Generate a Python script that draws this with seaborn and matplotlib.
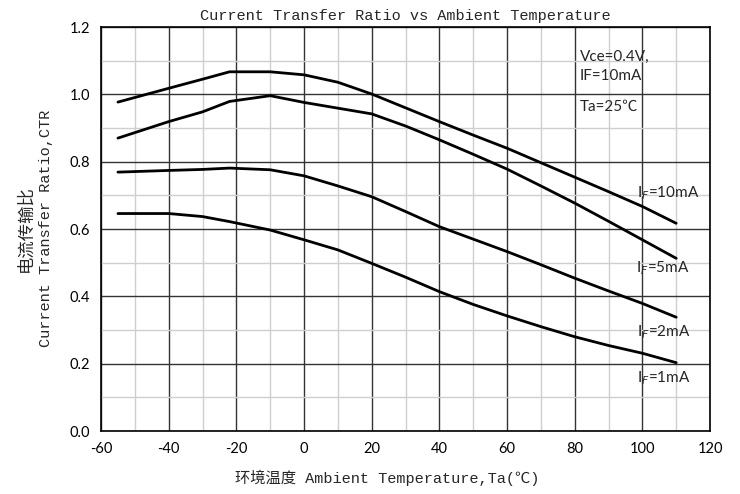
import numpy as np
import pandas as pd
import seaborn as sns
import matplotlib.pyplot as plt
from matplotlib.ticker import MultipleLocator, FuncFormatter

# curves
temp = [-55, -40, -30, -22, -10, 0, 10, 20, 30, 40, 50, 60, 70, 80, 90, 100, 110]
ctr_10ma = [0.977, 1.018, 1.045, 1.067, 1.067, 1.058, 1.036, 1.001, 0.960, 0.919, 0.879, 0.840, 0.797, 0.754, 0.711, 0.667, 0.617]
ctr_5ma = [0.870, 0.919, 0.948, 0.979, 0.996, 0.976, 0.959, 0.942, 0.906, 0.865, 0.822, 0.778, 0.728, 0.677, 0.623, 0.568, 0.513]
ctr_2ma = [0.769, 0.774, 0.777, 0.781, 0.776, 0.758, 0.728, 0.696, 0.652, 0.607, 0.570, 0.533, 0.494, 0.454, 0.416, 0.379, 0.338]
ctr_1ma = [0.646, 0.646, 0.637, 0.622, 0.597, 0.568, 0.538, 0.498, 0.457, 0.414, 0.376, 0.342, 0.310, 0.280, 0.254, 0.231, 0.203]

series = {"10mA": ctr_10ma, "5mA": ctr_5ma, "2mA": ctr_2ma, "1mA": ctr_1ma}
curve_labels = ["I$_F$=10mA", "I$_F$=5mA", "I$_F$=2mA", "I$_F$=1mA"]
label_pos = [(98.5, 0.707), (98.0, 0.484), (98.5, 0.294), (98.5, 0.157)]

rows = []
for name, vals in series.items():
    for t, v in zip(temp, vals):
        rows.append({"Ta": t, "CTR": v, "IF": name})
df = pd.DataFrame(rows)

sns.set_style("white")
mono = ["Liberation Mono", "Noto Sans CJK SC"]
sans = ["Lato", "DejaVu Sans"]

fig = plt.figure(figsize=(7.4, 4.94), dpi=100)
ax = fig.add_axes([0.1365, 0.1275, 0.823, 0.8178])

sns.lineplot(data=df, x="Ta", y="CTR", hue="IF", palette=["black"] * 4,
             linewidth=2, legend=False, ax=ax)

ax.set_xlim(-60, 120)
ax.set_ylim(0, 1.2)
ax.xaxis.set_major_locator(MultipleLocator(20))
ax.xaxis.set_minor_locator(MultipleLocator(10))
ax.yaxis.set_major_locator(MultipleLocator(0.2))
ax.yaxis.set_minor_locator(MultipleLocator(0.1))
ax.xaxis.set_major_formatter(FuncFormatter(lambda v, p: f"{v:.0f}"))
ax.yaxis.set_major_formatter(FuncFormatter(lambda v, p: f"{abs(v):.1f}"))
ax.grid(which="minor", color="#cfcfcf", linewidth=1)
ax.grid(which="major", color="#333333", linewidth=1)
ax.set_axisbelow(True)
for s in ax.spines.values():
    s.set_color("black")
    s.set_linewidth(1.2)

ax.tick_params(axis="x", which="major", direction="inout", length=8, width=1.5,
               colors="black", labelsize=10.5, pad=4)
ax.tick_params(axis="y", which="major", direction="out", length=5, width=1.5,
               colors="black", labelsize=10.5, pad=3)
ax.tick_params(which="minor", length=0)
for lab in ax.get_xticklabels() + ax.get_yticklabels():
    lab.set_family(sans)

ax.set_xlabel("")
ax.set_ylabel("")
ax.set_title("Current Transfer Ratio vs Ambient Temperature", family=mono,
             fontsize=11, pad=5)
fig.text(0.523, 0.032, "环境温度 Ambient Temperature,Ta(℃)", family=mono,
         fontsize=11, ha="center", va="center")
fig.text(0.034, 0.538, "电流传输比", family=mono, fontsize=12.5, rotation=90,
         ha="center", va="center")
fig.text(0.062, 0.538, "Current Transfer Ratio,CTR", family=mono, fontsize=11,
         rotation=90, ha="center", va="center")

ax.text(81.5, 1.111, "Vce=0.4V,", family=sans, fontsize=11, va="center")
ax.text(81.5, 1.055, "IF=10mA", family=sans, fontsize=11, va="center")
ax.text(81.5, 0.963, "Ta=25℃", family=["Lato", "Noto Sans CJK SC"], fontsize=11, va="center")
for txt, (x, y) in zip(curve_labels, label_pos):
    ax.text(x, y, txt, family=sans, fontsize=11, va="center")

fig.savefig("out.png", dpi=100)
